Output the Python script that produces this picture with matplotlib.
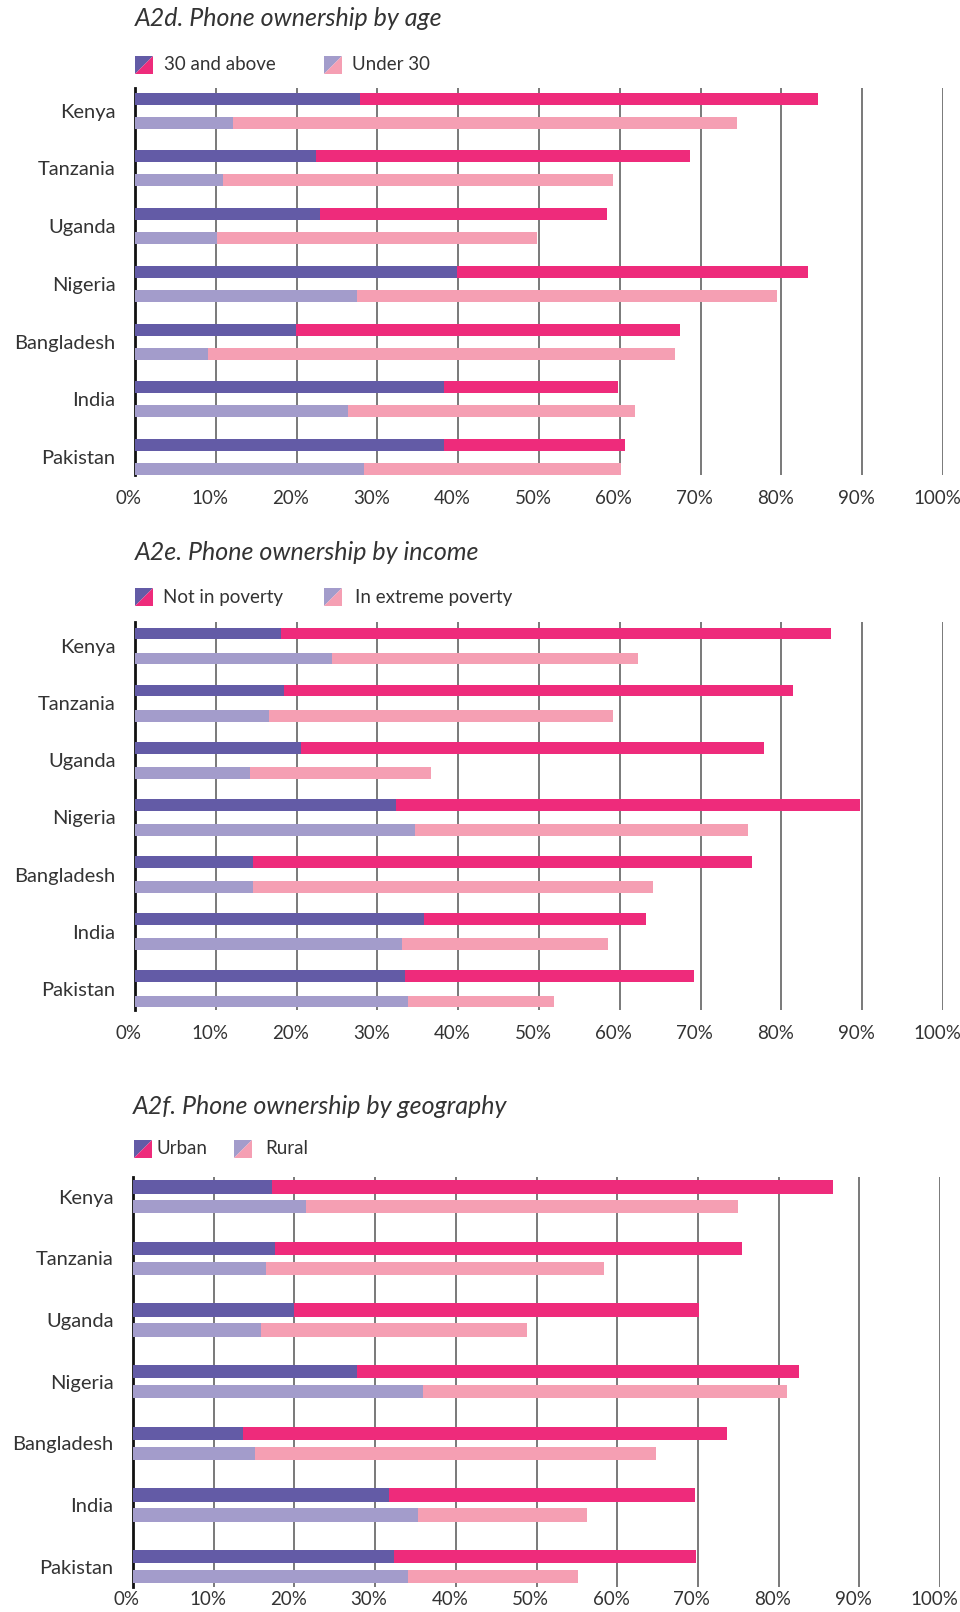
import matplotlib.pyplot as plt
import matplotlib.transforms as mtransforms
from matplotlib.patches import Polygon

plt.rcParams['font.family'] = ['Lato', 'DejaVu Sans']

countries = ['Kenya', 'Tanzania', 'Uganda', 'Nigeria', 'Bangladesh', 'India', 'Pakistan']
pct_ticks = [0, 10, 20, 30, 40, 50, 60, 70, 80, 90, 100]

# A2d - age
age_groups = ['30 and above', 'Under 30']
age_top_dark = [27.8, 22.4, 22.9, 39.8, 19.9, 38.3, 38.3]
age_top_total = [84.5, 68.7, 58.4, 83.3, 67.5, 59.8, 60.7]
age_bot_dark = [12.1, 10.9, 10.1, 27.5, 9.0, 26.4, 28.3]
age_bot_total = [74.5, 59.1, 49.8, 79.5, 66.8, 61.9, 60.2]

# A2e - income
inc_groups = ['Not in poverty', 'In extreme poverty']
inc_top_dark = [18.1, 18.5, 20.5, 32.3, 14.6, 35.8, 33.4]
inc_top_total = [86.1, 81.4, 77.9, 89.7, 76.3, 63.2, 69.2]
inc_bot_dark = [24.4, 16.6, 14.2, 34.6, 14.6, 33.1, 33.8]
inc_bot_total = [62.2, 59.1, 36.6, 75.9, 64.1, 58.6, 51.9]

# A2f - geography
geo_groups = ['Urban', 'Rural']
geo_top_dark = [17.2, 17.6, 20.0, 27.8, 13.6, 31.7, 32.4]
geo_top_total = [86.7, 75.5, 70.1, 82.5, 73.6, 69.7, 69.8]
geo_bot_dark = [21.4, 16.5, 15.9, 35.9, 15.1, 35.3, 34.1]
geo_bot_total = [75.0, 58.4, 48.8, 81.1, 64.8, 56.3, 55.2]

PURPLE = '#635ba6'
MAGENTA = '#ee2b7b'
LPURPLE = '#a39ccb'
LPINK = '#f59fb3'
TEXT = '#333333'

W, H = 960, 1612
fig = plt.figure(figsize=(W / 100, H / 100), dpi=100)


def px_axes(left, top, right, bottom):
    return fig.add_axes([left / W, 1 - bottom / H, (right - left) / W, (bottom - top) / H])


def legend_square(x, y, size, c1, c2):
    # split square: upper-left triangle c1, lower-right c2 (figure pixels, y from top)
    x0, x1 = x / W, (x + size) / W
    y0, y1 = 1 - (y + size) / H, 1 - y / H
    fig.patches.append(Polygon([(x0, y1), (x1, y1), (x0, y0)], closed=True,
                               facecolor=c1, transform=fig.transFigure, figure=fig))
    fig.patches.append(Polygon([(x1, y1), (x1, y0), (x0, y0)], closed=True,
                               facecolor=c2, transform=fig.transFigure, figure=fig))


def panel(box, title, title_y, legend_y, groups, leg_x, top_dark, top_total,
          bot_dark, bot_total, off, bh, ylim, xpad):
    ax = px_axes(*box)
    y = list(range(len(countries)))
    yt = [v - off for v in y]
    yb = [v + off for v in y]
    ax.barh(yt, top_dark, height=bh, color=PURPLE, zorder=3)
    ax.barh(yt, [t - d for t, d in zip(top_total, top_dark)], left=top_dark,
            height=bh, color=MAGENTA, zorder=3)
    ax.barh(yb, bot_dark, height=bh, color=LPURPLE, zorder=3)
    ax.barh(yb, [t - d for t, d in zip(bot_total, bot_dark)], left=bot_dark,
            height=bh, color=LPINK, zorder=3)

    ax.set_xlim(0, 100)
    ax.set_ylim(*ylim)
    ax.set_yticks(y)
    ax.set_yticklabels(countries)
    ax.set_xticks(pct_ticks)
    ax.set_xticklabels([f'{t}%' for t in pct_ticks])
    ax.tick_params(axis='y', length=0, pad=14, labelsize=14.5, labelcolor=TEXT)
    ax.tick_params(axis='x', length=0, pad=xpad, labelsize=13.5, labelcolor=TEXT)
    shift = mtransforms.ScaledTranslation(-6 / 100, 0, fig.dpi_scale_trans)
    for lab in ax.get_xticklabels():
        lab.set_transform(lab.get_transform() + shift)
    for s in ['top', 'right', 'bottom']:
        ax.spines[s].set_visible(False)
    ax.spines['left'].set_linewidth(2)
    ax.spines['left'].set_color('#111111')
    ax.grid(axis='x', color='#555555', linewidth=1.1, zorder=0)
    ax.set_axisbelow(True)

    fig.text(box[0] / W, 1 - title_y / H, title, fontsize=18, style='italic',
             color=TEXT, va='center', ha='left')

    (m1, t1), (m2, t2) = leg_x
    legend_square(m1, legend_y - 9, 18, PURPLE, MAGENTA)
    fig.text(t1 / W, 1 - legend_y / H, groups[0], fontsize=13.5, color=TEXT, va='center')
    legend_square(m2, legend_y - 9, 18, LPURPLE, LPINK)
    fig.text(t2 / W, 1 - legend_y / H, groups[1], fontsize=13.5, color=TEXT, va='center')
    return ax


panel((135, 88, 943, 475), 'A2d. Phone ownership by age', 19, 65,
      age_groups, [(135, 164), (324, 352)],
      age_top_dark, age_top_total, age_bot_dark, age_bot_total,
      0.208, 0.208, (6.31, -0.39), 11)

panel((135, 622, 943, 1010), 'A2e. Phone ownership by income', 552, 597,
      inc_groups, [(135, 163), (324, 355)],
      inc_top_dark, inc_top_total, inc_bot_dark, inc_bot_total,
      0.219, 0.205, (6.37, -0.42), 11)

panel((133, 1177, 940, 1587), 'A2f. Phone ownership by geography', 1106, 1149,
      geo_groups, [(134, 156), (234, 265)],
      geo_top_dark, geo_top_total, geo_bot_dark, geo_bot_total,
      0.162, 0.22, (6.33, -0.32), 3)

fig.savefig('out.png', dpi=100)
